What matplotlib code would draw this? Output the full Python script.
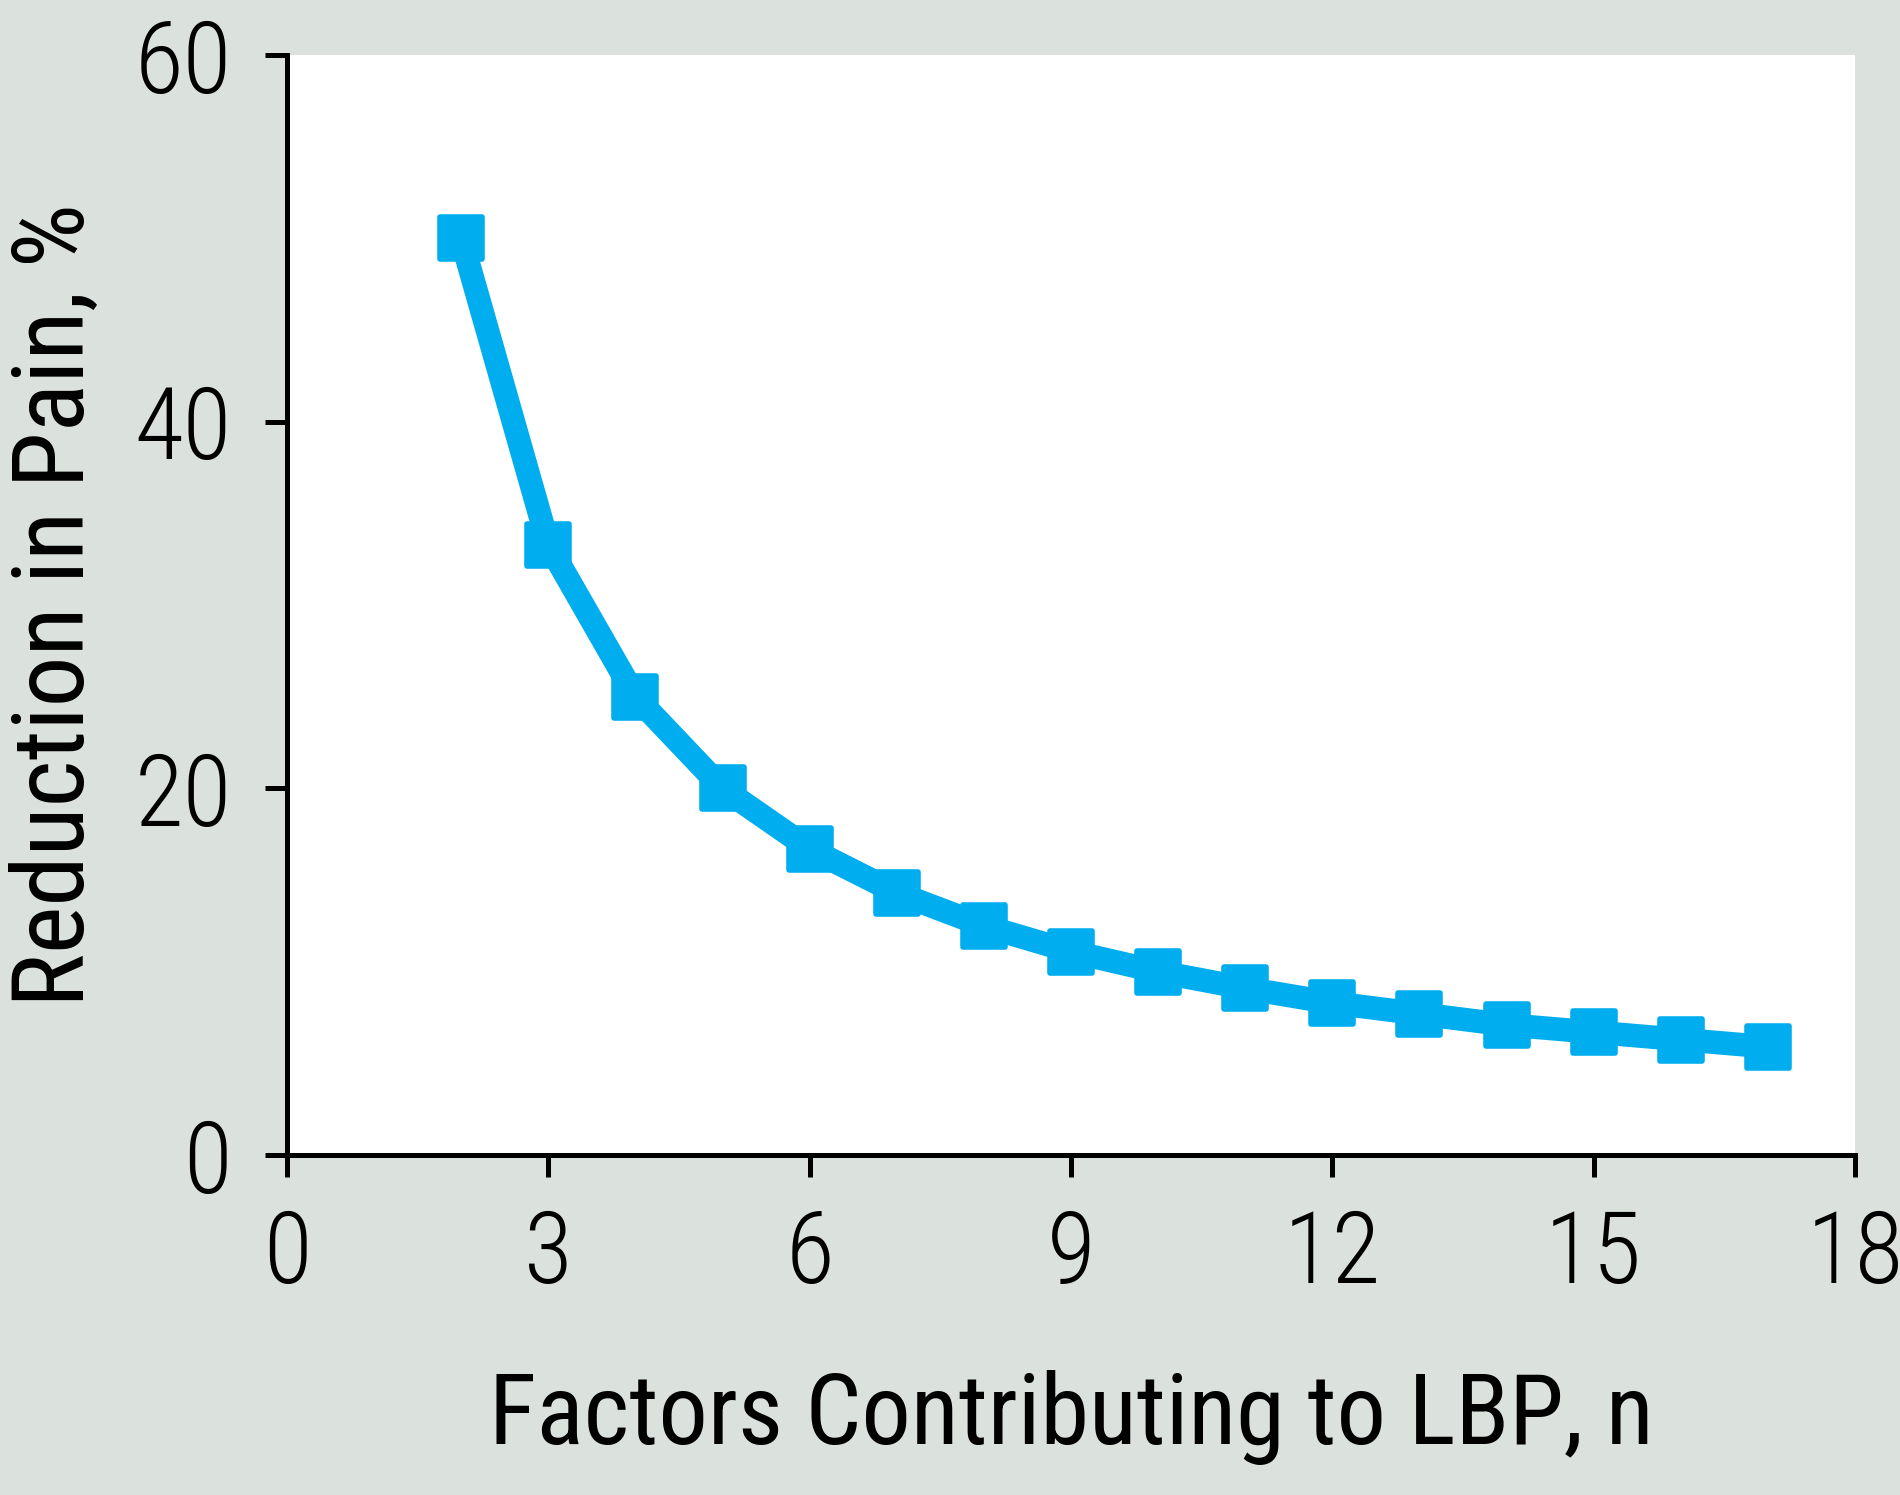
import matplotlib
matplotlib.use("Agg")
import matplotlib.pyplot as plt
from matplotlib.markers import MarkerStyle

plt.rcParams['font.family'] = ['Roboto Condensed', 'DejaVu Sans']
plt.rcParams['font.weight'] = 300

# data
factors = [2, 3, 4, 5, 6, 7, 8, 9, 10, 11, 12, 13, 14, 15, 16, 17]
reduction = [50, 33.3, 25, 20, 16.7, 14.3, 12.5, 11.1, 10, 9.1, 8.3, 7.7, 7.1, 6.7, 6.3, 5.9]
xticks = [0, 3, 6, 9, 12, 15, 18]
yticks = [0, 20, 40, 60]

BG = '#dbe1dd'
BLUE = '#00aeef'

fig = plt.figure(figsize=(19, 14.95), dpi=100, facecolor=BG)
ax = fig.add_axes([287/1900, 1 - 1155/1495, 1568/1900, 1100/1495])
ax.set_facecolor('white')

ax.plot(factors, reduction, color=BLUE, lw=17, solid_joinstyle='round',
        marker=MarkerStyle('s', joinstyle='round'), ms=30,
        mfc=BLUE, mec=BLUE, mew=4, clip_on=False)

ax.set_xlim(0, 18)
ax.set_ylim(0, 60)
ax.set_xticks(xticks)
ax.set_yticks(yticks)

for side in ['top', 'right']:
    ax.spines[side].set_visible(False)
for side in ['left', 'bottom']:
    ax.spines[side].set_linewidth(3.6)

ax.tick_params(direction='out', length=16, width=3.6, labelsize=72, pad=22)
ax.tick_params(axis='y', pad=24)

ax.set_xlabel('Factors Contributing to LBP, n', fontsize=71, labelpad=48)
# rotated label: baseline sits on the right side on screen
ax.set_ylabel('Reduction in Pain, %', fontsize=73, va='baseline')
ax.yaxis.set_label_coords((84 - 287) / 1568, 0.5)

fig.savefig('out.png', dpi=100, facecolor=BG)
